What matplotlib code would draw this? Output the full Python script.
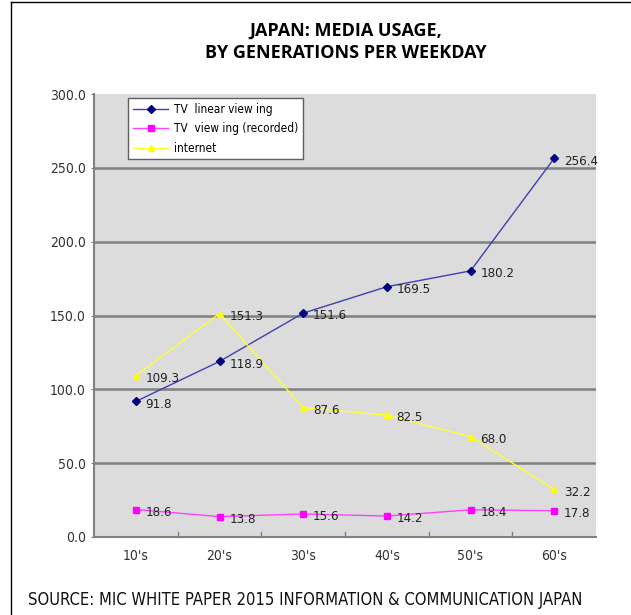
import matplotlib
matplotlib.use("Agg")
import matplotlib.pyplot as plt
from matplotlib.lines import Line2D

categories = ["10's", "20's", "30's", "40's", "50's", "60's"]
tv_linear = [91.8, 118.9, 151.6, 169.5, 180.2, 256.4]
tv_recorded = [18.6, 13.8, 15.6, 14.2, 18.4, 17.8]
internet = [109.3, 151.3, 87.6, 82.5, 68.0, 32.2]
series_names = ["TV  linear view ing", "TV  view ing (recorded)", "internet"]
y_ticks = [0, 50, 100, 150, 200, 250, 300]
title = "JAPAN: MEDIA USAGE,\nBY GENERATIONS PER WEEKDAY"
source = "SOURCE: MIC WHITE PAPER 2015 INFORMATION & COMMUNICATION JAPAN"

W, H = 631, 615
fig = plt.figure(figsize=(W / 100, H / 100), dpi=100)
fig.patch.set_facecolor("white")

narrow = dict(family=["DejaVu Sans"], fontstretch="condensed")

left, right, top, bottom = 94, 596, 94, 537
ax = fig.add_axes([left / W, 1 - bottom / H, (right - left) / W, (bottom - top) / H])
ax.set_facecolor("#dcdcdc")

x = list(range(len(categories)))
ax.set_xlim(-0.5, len(categories) - 0.5)
ax.set_ylim(0, 300)

for yv in y_ticks[1:-1]:
    ax.axhline(yv, color="#808080", lw=1.8, zorder=1)

ax.plot(x, tv_linear, color="#4040b0", lw=1.0, marker="D", ms=4.5,
        mfc="#000080", mec="#000080", label=series_names[0], zorder=3)
ax.plot(x, tv_recorded, color="#ff40ff", lw=1.0, marker="s", ms=4.5,
        mfc="#ff00ff", mec="#ff00ff", label=series_names[1], zorder=3)
ax.plot(x, internet, color="#ffff30", lw=1.0, marker="^", ms=5,
        mfc="#ffff00", mec="#ffff00", label=series_names[2], zorder=3)

for series in (tv_linear, tv_recorded, internet):
    for xi, v in zip(x, series):
        ax.annotate(f"{v:.1f}", (xi, v), xytext=(7, -2), textcoords="offset points",
                    ha="left", va="center", fontsize=9.5, color="#222222",
                    zorder=4, **narrow)

ax.set_yticks(y_ticks)
ax.set_yticklabels([f"{v:.1f}" for v in y_ticks], fontsize=10, color="#333333", **narrow)
ax.tick_params(axis="y", length=2, color="#808080", pad=4)

ax.set_xticks(x)
ax.set_xticklabels(categories, fontsize=10, color="#333333", **narrow)
ax.tick_params(axis="x", length=0, pad=9)
for b in [i + 0.5 for i in x[:-1]]:
    ax.plot([b, b], [0, 3.5], color="#808080", lw=1.0, zorder=2, clip_on=False)

for s in ["top", "right"]:
    ax.spines[s].set_visible(False)
for s in ["left", "bottom"]:
    ax.spines[s].set_color("#808080")
    ax.spines[s].set_linewidth(1.5)

leg = ax.legend(loc="upper left", bbox_to_anchor=(0.068, 0.991), borderaxespad=0,
                frameon=True, fancybox=False, edgecolor="#606060", facecolor="white",
                framealpha=1,
                prop={"family": "DejaVu Sans", "stretch": "condensed", "size": 8.5},
                handlelength=3.0, borderpad=0.4, labelspacing=0.55, handletextpad=0.5)
leg.get_frame().set_linewidth(1.0)

fig.text(346 / W, 1 - 42 / H, title, ha="center", va="center", fontsize=13,
         fontweight="bold", family=["Open Sans", "DejaVu Sans"], linespacing=1.35)

fig.text(28 / W, 1 - 600 / H, source, ha="left", va="center", fontsize=11.9,
         color="#111111", **narrow)

fig.add_artist(Line2D([11 / W, 11 / W], [0, 1 - 2 / H], color="black", lw=1.0))
fig.add_artist(Line2D([11 / W, 1], [1 - 2 / H, 1 - 2 / H], color="black", lw=1.0))

fig.savefig("out.png", dpi=100, facecolor="white")
